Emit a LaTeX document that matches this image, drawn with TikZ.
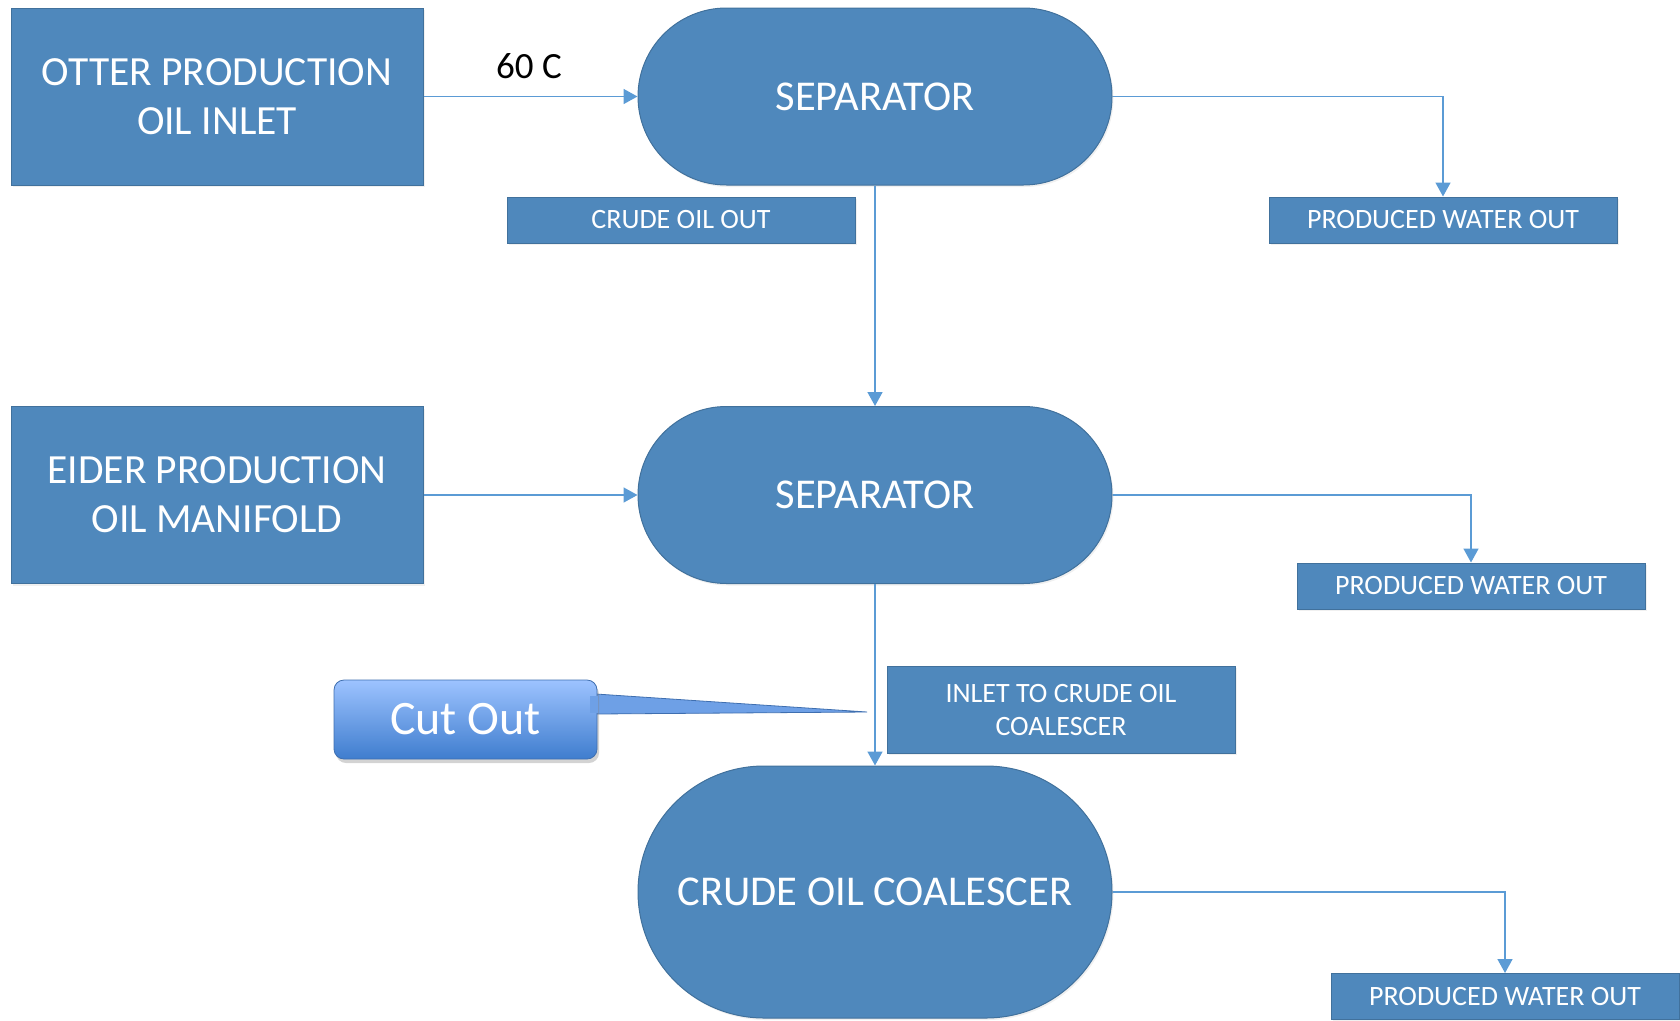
\documentclass[tikz,border=0pt]{standalone}
\usepackage{fontspec}
\setmainfont{Carlito}
\usetikzlibrary{arrows.meta}
\usetikzlibrary{shapes.misc}
\usetikzlibrary{shadows}

\definecolor{unitblue}{HTML}{4F88BC}
\definecolor{edgeblue}{HTML}{41719C}
\definecolor{pipeblue}{HTML}{5B9BD5}
\definecolor{cuttop}{HTML}{9DC3FF}
\definecolor{cutbot}{HTML}{3F7DCE}
\definecolor{cutedge}{HTML}{3F6FB0}

\tikzset{
    unit/.style={fill=unitblue, draw=edgeblue, line width=1pt, text=white,
        align=center, inner sep=0pt,
        drop shadow={opacity=0.12, shadow xshift=1.5pt, shadow yshift=-2pt}},
    well/.style={unit, rectangle, minimum width=412pt, minimum height=177pt,
        font=\fontsize{41.5}{49}\selectfont},
    vessel/.style={unit, rounded rectangle, minimum width=474pt,
        font=\fontsize{42.5}{49}\selectfont},
    tag/.style={unit, rectangle, minimum width=348pt, minimum height=46pt,
        font=\fontsize{28}{33}\selectfont},
    flow/.style={draw=pipeblue, line width=1.6pt,
        -{Triangle[length=14pt,width=15pt]}}
}

\begin{document}
\begin{tikzpicture}[x=1pt,y=-1pt]
        \useasboundingbox (0,0) rectangle (1680,1020);

        % inlets
        % ------
        \node[well] (otter) at (217,96.5) {OTTER PRODUCTION\\OIL INLET};
        \node[well] (eider) at (217,495) {EIDER PRODUCTION\\OIL MANIFOLD};

        % vessels
        % -------
        \node[vessel, minimum height=177pt] (sepA) at (875,96.5) {SEPARATOR};
        \node[vessel, minimum height=177pt] (sepB) at (875,495) {SEPARATOR};
        \node[vessel, minimum height=252pt] (coal) at (875,892) {CRUDE OIL COALESCER};

        % outlet labels
        \node[tag] (crudeout) at (681,220) {CRUDE OIL OUT};
        \node[tag] (waterA) at (1443,220) {PRODUCED WATER OUT};
        \node[tag] (waterB) at (1471,586) {PRODUCED WATER OUT};
        \node[tag] (waterC) at (1505,996.5) {PRODUCED WATER OUT};
        \node[tag, minimum height=87pt] (inlet) at (1061,709.5)
            {INLET TO CRUDE OIL\\COALESCER};

        % temperature
        \node[font=\fontsize{37}{44}\selectfont] (temp) at (529,66) {60 C};

        % pipes
        % -----
        \draw[flow] (otter.east) -- (sepA.west);
        \draw[flow] (eider.east) -- (sepB.west);
        \draw[flow] (sepA.south) -- (sepB.north);
        \draw[flow] (sepB.south) -- (coal.north);
        \foreach \s/\w in {sepA/waterA, sepB/waterB, coal/waterC}
            \draw[flow] (\s.east) -| (\w.north);

        % cut out callout
        % ---------------
        \coordinate (cuttip) at (867,712);
        \coordinate (cutbaseA) at (596,694);
        \coordinate (cutbaseB) at (596,714);
        \fill[color=cutbot!50!cuttop, draw=cutedge, line width=0.8pt]
            (cutbaseA) -- (cuttip) -- (cutbaseB) -- cycle;
        \node[rectangle, rounded corners=10pt, minimum width=263pt,
            minimum height=79pt, top color=cuttop, bottom color=cutbot,
            draw=cutedge, line width=0.8pt, text=white,
            font=\fontsize{48}{56}\selectfont,
            drop shadow={opacity=0.35, shadow xshift=2pt, shadow yshift=-4pt}]
            (cut) at (465.5,719.5) {Cut Out};
        \fill[color=cutbot!50!cuttop] (590,695.5) rectangle (598,712.5);

\end{tikzpicture}
\end{document}
